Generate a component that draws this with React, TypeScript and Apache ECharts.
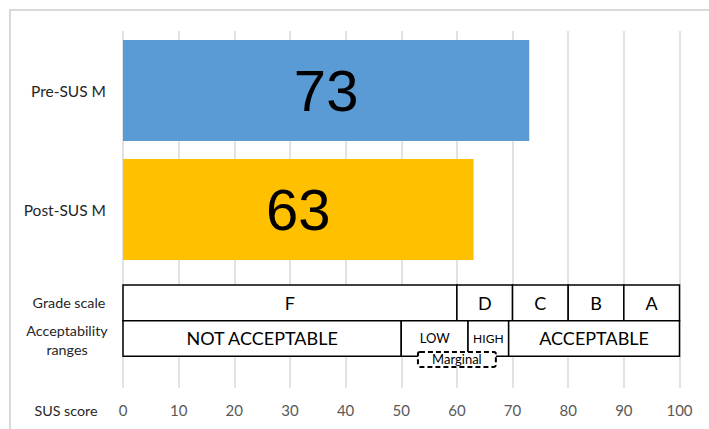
import React, { useEffect, useRef } from "react";
import * as echarts from "echarts";

const categories = ["Pre-SUS M", "Post-SUS M", ""];
const susValues = [73, 63];
const barColors = ["#5B9BD5", "#FFC000"];
const xMin = 0;
const xMax = 100;
const xInterval = 10;
const gradeLetters = ["F", "D", "C", "B", "A"];
const gradeBounds = [0, 60, 70, 80, 90, 100];
const acceptLabels = ["NOT ACCEPTABLE", "LOW", "HIGH", "ACCEPTABLE"];
const acceptBounds = [0, 50, 62, 69.3, 100];
const marginalRange = [53, 67];
const marginalLabel = "Marginal";
const rowLabels = ["Grade scale", "Acceptability\nranges"];
const axisTitle = "SUS score";

const FONT = "Lato";

type Box = { start: number; end: number; row: number; label: string };

const boxes: Box[] = [];
gradeLetters.forEach((l, i) =>
  boxes.push({ start: gradeBounds[i], end: gradeBounds[i + 1], row: 0, label: l })
);
acceptLabels.forEach((l, i) =>
  boxes.push({ start: acceptBounds[i], end: acceptBounds[i + 1], row: 1, label: l })
);
boxes.push({ start: marginalRange[0], end: marginalRange[1], row: 2, label: marginalLabel });

export default function App() {
  const ref = useRef<HTMLDivElement>(null);
  useEffect(() => {
    if (!ref.current) return;
    const chart = echarts.init(ref.current, null, { renderer: "svg" });
    const option: any = {
      animation: false,
      backgroundColor: "#ffffff",
      grid: { left: 123, right: 29.5, top: 31, bottom: 41, containLabel: false },
      xAxis: {
        type: "value",
        min: xMin,
        max: xMax,
        interval: xInterval,
        axisLine: { show: false },
        axisTick: { show: false },
        splitLine: { show: true, lineStyle: { color: "#d9d9d9", width: 1.5 } },
        axisLabel: { color: "#595959", fontSize: 15, fontFamily: FONT, margin: 14 },
      },
      yAxis: {
        type: "category",
        inverse: true,
        data: categories,
        axisLine: { show: false },
        axisTick: { show: false },
        splitLine: { show: false },
        axisLabel: { color: "#262626", fontSize: 15.5, fontFamily: FONT, margin: 17 },
      },
      graphic: [
        {
          type: "rect",
          z: -10,
          shape: { x: 10, y: 10, width: 900, height: 900 },
          style: { fill: "none", stroke: "#d9d9d9", lineWidth: 2 },
        },
        {
          type: "text",
          x: 69,
          y: 302,
          style: { text: rowLabels[0], fontSize: 14.3, fontFamily: FONT, fill: "#262626", align: "center", verticalAlign: "middle" },
        },
        {
          type: "text",
          x: 67,
          y: 340,
          style: { text: rowLabels[1], fontSize: 14.3, lineHeight: 19, fontFamily: FONT, fill: "#262626", align: "center", verticalAlign: "middle" },
        },
        {
          type: "text",
          x: 66,
          y: 410,
          style: { text: axisTitle, fontSize: 14.3, fontFamily: FONT, fill: "#262626", align: "center", verticalAlign: "middle" },
        },
      ],
      series: [
        {
          type: "bar",
          barWidth: "85%",
          data: susValues.map((v, i) => ({ value: v, itemStyle: { color: barColors[i] } })),
          label: {
            show: true,
            position: "inside",
            color: "#000",
            fontSize: 58,
            fontFamily: "Liberation Sans",
          },
        },
        {
          type: "custom",
          z: 5,
          encode: { x: [0, 1] },
          data: boxes.map((b) => [b.start, b.end, 2]),
          renderItem: (params: any, api: any) => {
            const b = boxes[params.dataIndex];
            const p0 = api.coord([b.start, 2]);
            const p1 = api.coord([b.end, 2]);
            const cy = p0[1];
            const bandH = api.size([0, 1])[1];
            const top = cy - bandH * 0.366;
            const rowH = bandH * 0.3;
            const x0 = p0[0];
            const x1 = p1[0];
            if (b.row === 2) {
              const y = cy + bandH * 0.197;
              const h = bandH * 0.126;
              return {
                type: "group",
                children: [
                  {
                    type: "rect",
                    shape: { x: x0, y, width: x1 - x0, height: h, r: 2 },
                    style: { fill: "#fff", stroke: "#000", lineWidth: 2, lineDash: [5, 3] },
                  },
                  {
                    type: "text",
                    x: (x0 + x1) / 2,
                    y: y + h / 2,
                    style: { text: b.label, fontSize: 13, fontFamily: FONT, fill: "#000", align: "center", verticalAlign: "middle" },
                  },
                ],
              };
            }
            const y = top + b.row * rowH;
            const small = b.label === "LOW" || b.label === "HIGH";
            return {
              type: "group",
              children: [
                {
                  type: "rect",
                  shape: { x: x0, y, width: x1 - x0, height: rowH },
                  style: { fill: "#fff", stroke: "#000", lineWidth: 1.5 },
                },
                {
                  type: "text",
                  x: (x0 + x1) / 2,
                  y: y + rowH / 2,
                  style: {
                    text: b.label,
                    fontSize: small ? (b.label === "LOW" ? 13 : 12) : 18,
                    fontFamily: FONT,
                    fill: "#000",
                    align: "center",
                    verticalAlign: "middle",
                  },
                },
              ],
            };
          },
        },
      ],
    };
    chart.setOption(option);
    return () => chart.dispose();
  }, []);
  return (
    <div
      ref={ref}
      style={{ position: "fixed", left: 0, top: 0, width: 709, height: 429, background: "#fff" }}
    />
  );
}
